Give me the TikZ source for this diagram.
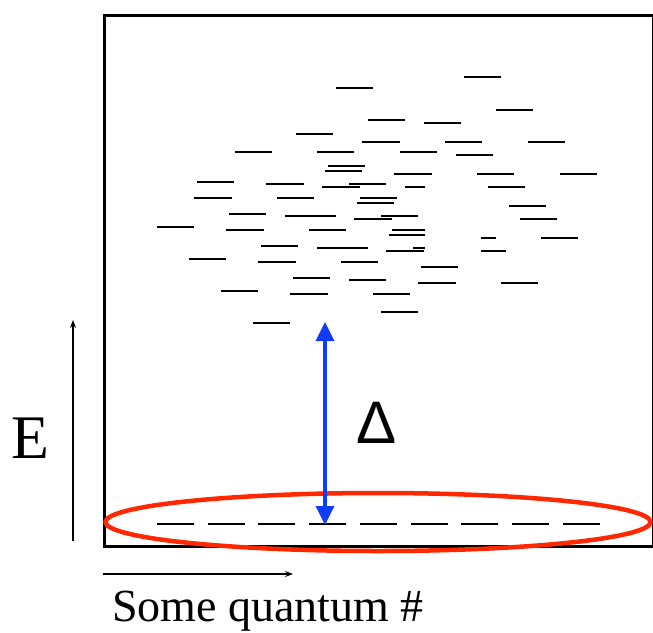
\documentclass[tikz,border=0pt]{standalone}
\usepackage{fontspec}
\setmainfont{Liberation Serif}
\newfontfamily\gapfont{Liberation Sans}
\usetikzlibrary{arrows.meta,positioning,shapes.geometric}
\definecolor{gapblue}{RGB}{15,60,255}
\definecolor{groundred}{RGB}{255,40,0}

\begin{document}
\begin{tikzpicture}[x=1pt, y=-1pt,
      frame/.style={draw, line width=2.5pt},
      level/.style={line width=2pt},
      axis/.style={-{Stealth[length=8pt, width=6pt]}, line width=1.1pt},
      gap/.style={{Triangle[length=19pt, width=18pt]}-{Triangle[length=19pt, width=18pt]}, gapblue, line width=3.5pt},
      ground/.style={draw=groundred, line width=4.5pt}]
    \useasboundingbox (0,0) rectangle (653,632);
    % box of states
    \node[frame, minimum width=549pt, minimum height=531pt, inner sep=0pt, anchor=north west] (box) at (103,14) {};
    % excited levels
    \foreach \xa/\xb/\yy in {464/501/77, 336/373/88, 496/533/110, 368/405/120, 424/461/123,
        296/333/134, 362/400/142, 445/482/142, 528/565/142, 235/272/152, 317/354/152,
        400/437/152, 456/493/155, 328/365/166, 325/362/171, 394/432/174, 477/514/174,
        560/597/174, 197/234/182, 266/304/184, 322/360/187, 349/386/184, 405/425/187,
        488/525/187, 194/232/198, 277/314/198, 360/397/198, 357/394/203, 509/546/206,
        229/266/214, 285/322/216, 298/336/216, 354/392/219, 381/418/216, 520/557/219,
        157/194/227, 226/264/230, 309/346/230, 392/425/230, 389/425/235, 481/496/238,
        541/578/238, 261/298/246, 317/354/248, 330/368/248, 386/424/251, 413/425/248,
        481/506/251, 189/226/259, 258/296/262, 341/378/262, 421/458/267, 293/330/278,
        349/386/280, 418/456/283, 501/538/283, 221/258/291, 290/328/294, 373/410/294,
        381/418/312, 253/290/323}
      \draw[level] (\xa,\yy) -- (\xb,\yy);
    % ground levels
    \foreach \xa in {157,208,258,309,360,411,461,512,563}
      \draw[level] (\xa,524) -- ++(37,0);
    \node[ground, ellipse, minimum width=545pt, minimum height=58pt, inner sep=0pt] (gs) at (378,522) {};
    % gap
    \coordinate (gapTop) at (325,322);
    \coordinate (gapBot) at (325,525);
    \draw[gap] (gapBot) -- (gapTop);
    \node[font=\gapfont\fontsize{60}{60}\selectfont, inner sep=0pt] (delta) at (377,423) {Δ};
    % axes
    \coordinate (eFoot) at (73,541);
    \coordinate (eTip) at (73,320);
    \draw[axis] (eFoot) -- (eTip);
    \node[font=\fontsize{62}{62}\selectfont, inner sep=0pt] (elabel) at (30,438) {E};
    \coordinate (qFoot) at (103,574);
    \coordinate (qTip) at (293,574);
    \draw[axis] (qFoot) -- (qTip);
    \node[font=\fontsize{46}{46}\selectfont, inner sep=0pt, anchor=base west] (qlabel) at (112,621) {Some quantum \#};
  \end{tikzpicture}
\end{document}
